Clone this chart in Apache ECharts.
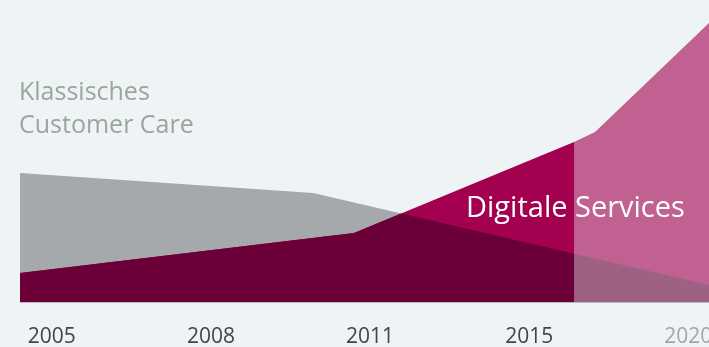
<!DOCTYPE html>
<html>
<head>
<meta charset="utf-8">
<script src="https://cdn.jsdelivr.net/npm/echarts@6/dist/echarts.min.js"></script>
<style>
html,body{margin:0;padding:0;background:#eef3f6;}
#c{width:709px;height:347px;}
</style>
</head>
<body>
<div id="c"></div>
<script>
// Tick labels (equally spaced periods on the axis)
var yearLabels = ['2005', '2008', '2011', '2015', '2020'];
var labelPositions = [0, 1, 2, 3, 4];
var forecastLabels = ['2020'];

// Klassisches Customer Care (x = period position, y = relative volume)
var classicX = [-0.2, 1.642, 4.13];
var classicY = [46.1, 38.9, 6.1];

// Digitale Services
var digitalX = [-0.2, 1.899, 3.282, 3.414, 4.13];
var digitalY = [10.4, 24.6, 57.1, 60.7, 99.6];

// Start of the forecast period
var forecastStart = 3.282;

var xMin = -0.2, xMax = 4.13, yMin = 0, yMax = 100;

function areaPoints(api, xs, ys) {
  var pts = [];
  pts.push(api.coord([xs[0], 0]));
  for (var i = 0; i < xs.length; i++) pts.push(api.coord([xs[i], ys[i]]));
  pts.push(api.coord([xs[xs.length - 1], 0]));
  return pts;
}

function areaSeries(xs, ys, fill, z, clipXs, clipYs) {
  return {
    type: 'custom',
    z: z,
    silent: true,
    data: [0],
    renderItem: function (params, api) {
      var el = { type: 'polygon', shape: { points: areaPoints(api, xs, ys) }, style: { fill: fill } };
      if (clipXs) {
        el.clipPath = { type: 'polygon', shape: { points: areaPoints(api, clipXs, clipYs) } };
      }
      return el;
    }
  };
}

var chart = echarts.init(document.getElementById('c'), null, { renderer: 'canvas' });
chart.setOption({
  backgroundColor: '#eef3f6',
  animation: false,
  grid: { left: 20, right: 0, top: 22, bottom: 45, containLabel: false, outerBoundsMode: 'none' },
  xAxis: {
    type: 'value', min: xMin, max: xMax,
    splitLine: { show: false },
    axisTick: { show: false },
    axisLine: { show: true, lineStyle: { color: '#b8bcc0', width: 1 } },
    axisLabel: {
      customValues: labelPositions,
      margin: 25,
      fontFamily: 'Open Sans',
      fontSize: 21,
      color: '#444444',
      hideOverlap: false,
      formatter: function (v) {
        var t = yearLabels[Math.round(v)];
        return forecastLabels.indexOf(t) >= 0 ? '{f|' + t + '}' : t;
      },
      rich: { f: { color: '#a2a6a9', fontFamily: 'Open Sans', fontSize: 21 } }
    }
  },
  yAxis: { type: 'value', min: yMin, max: yMax, show: false, splitLine: { show: false } },
  title: [
    {
      text: 'Klassisches\nCustomer Care', left: 19, top: 76, padding: 0,
      textStyle: { fontFamily: 'Open Sans', fontWeight: 'normal', fontSize: 25, lineHeight: 33, color: '#9ca59c' }
    },
    {
      text: 'Digitale Services', left: 466, top: 194, padding: 0,
      textStyle: { fontFamily: 'Open Sans', fontWeight: 'normal', fontSize: 29, color: '#ffffff' }
    }
  ],
  series: [
    areaSeries(classicX, classicY, '#a5a9ac', 1),
    areaSeries(digitalX, digitalY, '#a3004f', 2),
    areaSeries(classicX, classicY, '#6b0038', 3, digitalX, digitalY),
    {
      type: 'custom', z: 4, silent: true, data: [0],
      renderItem: function (params, api) {
        var a = api.coord([forecastStart, yMax]);
        var b = api.coord([xMax, yMin]);
        return { type: 'rect', shape: { x: a[0], y: a[1], width: b[0] - a[0], height: b[1] - a[1] },
                 style: { fill: 'rgba(238,243,246,0.4)' } };
      }
    }
  ]
});
</script>
</body>
</html>
